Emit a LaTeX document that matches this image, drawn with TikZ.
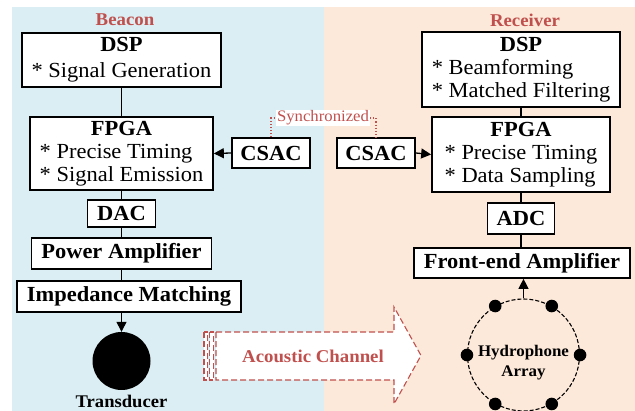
\documentclass[tikz,border=0pt]{standalone}
\usepackage{fontspec}
\setmainfont{Liberation Serif}[FakeStretch=1.045]
\usetikzlibrary{arrows.meta}
\definecolor{bluebg}{HTML}{DAEEF3}
\definecolor{peachbg}{HTML}{FDE9D9}
\definecolor{redtxt}{HTML}{C0504D}
\begin{document}
\begin{tikzpicture}[x=1pt,y=-1pt,
  box/.style={draw, line width=1.7pt, fill=white, inner sep=0pt, align=center,
    font=\fontsize{21.5}{23}\selectfont},
  bbox/.style={box, font=\fontsize{21.5}{23}\selectfont\bfseries},
  title/.style={text=redtxt, font=\fontsize{18}{20}\selectfont\bfseries},
  conn/.style={line width=1.3pt},
  arr/.style={line width=1.3pt, -{Triangle[length=10pt,width=10pt]}},
  dot/.style={circle, fill=black, inner sep=0pt, minimum size=12.6pt},
  syncline/.style={redtxt, line width=1.1pt, dotted},
  chan/.style={redtxt, line width=1.1pt, dash pattern=on 6pt off 3pt, fill=white}
]
\useasboundingbox (0,0) rectangle (635,411);
\fill[white] (0,0) rectangle (635,411);
\fill[bluebg] (12,7) rectangle (323.5,411);
\fill[peachbg] (323.5,7) rectangle (635,411);

% titles
\node[title] (tL) at (125,20) {Beacon};
\node[title] (tR) at (525,20) {Receiver};

% Beacon side
\node[box, minimum width=199pt, minimum height=54pt] (dspL) at (121.5,60)
  {\textbf{DSP}\\[3pt]{*} Signal Generation};
\node[box, minimum width=183pt, minimum height=73pt] (fpgaL) at (121.5,153.5)
  {\begin{tabular}{@{}l@{}}\multicolumn{1}{@{}c@{}}{\textbf{FPGA}}\\{*} Precise Timing\\{*} Signal Emission\end{tabular}};
\node[bbox, minimum width=78pt, minimum height=30pt] (csacL) at (271,153) {CSAC};
\node[bbox, minimum width=68pt, minimum height=27pt] (dac) at (121.5,213.5) {DAC};
\node[bbox, minimum width=180pt, minimum height=31pt] (pa) at (121.5,253.5) {Power Amplifier};
\node[bbox, minimum width=224pt, minimum height=31pt] (im) at (129,296.5) {Impedance Matching};
\node[circle, fill=black, inner sep=0pt, minimum size=58pt] (tr) at (121.5,361) {};
\node[font=\fontsize{17.8}{20}\selectfont\bfseries] (trl) at (121.5,401) {Transducer};

\draw[conn] (dspL.south) -- (fpgaL.north);
\draw[conn] (fpgaL.south) -- (dac.north);
\draw[conn] (dac.south) -- (pa.north);
\draw[conn] (pa.south) -- (pa.south |- im.north);
\draw[arr] (im.south -| tr.north) -- (tr.north);
\draw[arr] (csacL.west) -- (fpgaL.east);

% Receiver side
\node[box, minimum width=198pt, minimum height=75pt] (dspR) at (521,69.5)
  {\begin{tabular}{@{}l@{}}\multicolumn{1}{@{}c@{}}{\textbf{DSP}}\\{*} Beamforming\\{*} Matched Filtering\end{tabular}};
\node[box, minimum width=178pt, minimum height=75pt] (fpgaR) at (521,154.5)
  {\begin{tabular}{@{}l@{}}\multicolumn{1}{@{}c@{}}{\textbf{FPGA}}\\{*} Precise Timing\\{*} Data Sampling\end{tabular}};
\node[bbox, minimum width=78pt, minimum height=30pt] (csacR) at (376,153) {CSAC};
\node[bbox, minimum width=67pt, minimum height=31pt] (adc) at (521,218.5) {ADC};
\node[bbox, minimum width=216pt, minimum height=30pt] (fea) at (522,263) {Front-end Amplifier};
\node[circle, draw, line width=1.1pt, dash pattern=on 4pt off 2pt, inner sep=0pt, minimum size=112pt] (ha) at (523.5,355) {};
\node[font=\fontsize{16.2}{20}\selectfont\bfseries, align=center] (hal) at (523.5,363) {Hydrophone\\Array};
\foreach \a/\n in {0/d1,60/d2,120/d3,180/d4,240/d5,300/d6}
  \node[dot] (\n) at (ha.\a) {};

\draw[conn] (dspR.south) -- (fpgaR.north);
\draw[conn] (fpgaR.south) -- (adc.north);
\draw[conn] (adc.south) -- (adc.south |- fea.north);
\draw[arr] (ha.north) -- (ha.north |- fea.south);
\draw[arr] (csacR.east) -- (fpgaR.west);

% synchronization
\node[fill=white, inner sep=1pt, text=redtxt, font=\fontsize{16}{18}\selectfont] (sync) at (323,118) {Synchronized};
\draw[syncline] (csacL.north) |- (sync.west);
\draw[syncline] (sync.east) -| (csacR.north);

% acoustic channel arrow
\draw[chan] (204,332) rectangle (207.5,380);
\draw[chan] (209.5,332) rectangle (213.5,380);
\draw[chan] (216,332) -- (394,332) -- (394,307) -- (421,355.5) -- (394,404) -- (394,380) -- (216,380) -- cycle;
\node[text=redtxt, font=\fontsize{18}{20}\selectfont\bfseries] (ac) at (313,356) {Acoustic Channel};
\end{tikzpicture}
\end{document}
